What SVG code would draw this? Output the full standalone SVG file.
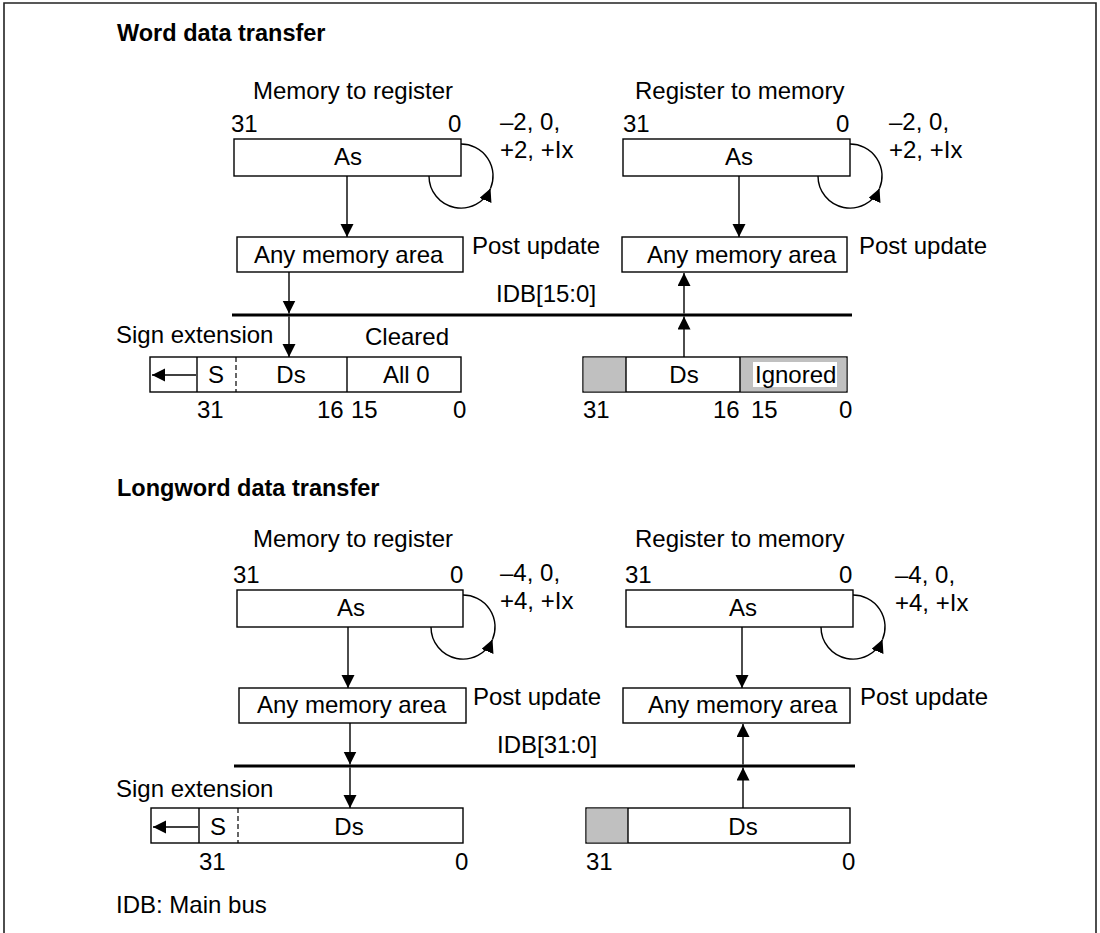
<svg xmlns="http://www.w3.org/2000/svg" width="1100" height="933" viewBox="0 0 1100 933">
<style>
text{font-family:"Liberation Sans",Arial,Helvetica,sans-serif;font-size:24px;fill:#000}
.b{font-weight:bold;font-size:23.5px}
.m{text-anchor:middle}
.box{fill:#fff;stroke:#000;stroke-width:1.4}
.gray{fill:#c0c0c0;stroke:none}
.ln{fill:none;stroke:#000;stroke-width:1.4}
.dash{fill:none;stroke:#000;stroke-width:1.2;stroke-dasharray:5 3}
.arr{fill:none;stroke:#000;stroke-width:1.4;marker-end:url(#ah)}
.bus{stroke:#000;stroke-width:3}
</style>
<defs>
<marker id="ah" markerUnits="userSpaceOnUse" markerWidth="14" markerHeight="14" refX="13" refY="6.5" orient="auto">
<path d="M0,0 L13,6.5 L0,13 z" fill="#000"/>
</marker>
</defs>
<rect width="1100" height="933" fill="#fff"/>
<path d="M4,933 V3 H1096 V933" fill="none" stroke="#222" stroke-width="1.6"/>

<g id="word">
<text class="b" x="117" y="41">Word data transfer</text>

<g id="w-as-left">
<text x="253" y="99">Memory to register</text>
<text x="231" y="132">31</text>
<text x="448" y="132">0</text>
<rect class="box" x="234" y="139" width="227" height="37"/>
<text class="m" x="348" y="165">As</text>
<text x="500" y="130">–2, 0,</text>
<text x="500" y="158">+2, +Ix</text>
</g>
<g id="w-mem-left">
<rect class="box" x="237" y="237" width="226" height="35"/>
<text x="254" y="263">Any memory area</text>
<text x="472" y="254">Post update</text>
</g>
<g id="w-ds-left">
<text x="116" y="343">Sign extension</text>
<text x="365" y="345">Cleared</text>
<rect class="box" x="150" y="357" width="311" height="35"/>
<line class="ln" x1="197" y1="357" x2="197" y2="392"/>
<line class="dash" x1="236" y1="357" x2="236" y2="392"/>
<line class="ln" x1="347" y1="357" x2="347" y2="392"/>
<text x="208" y="383">S</text>
<text class="m" x="291" y="383">Ds</text>
<text x="383" y="383">All 0</text>
<text x="197" y="418">31</text>
<text x="317" y="418">16</text>
<text x="351" y="418">15</text>
<text x="453" y="418">0</text>
</g>

<g id="w-as-right">
<text x="635" y="99">Register to memory</text>
<text x="623" y="132">31</text>
<text x="836" y="132">0</text>
<rect class="box" x="623" y="139" width="227" height="37"/>
<text class="m" x="739" y="165">As</text>
<text x="889" y="130">–2, 0,</text>
<text x="889" y="158">+2, +Ix</text>
</g>
<g id="w-mem-right">
<rect class="box" x="622" y="237" width="225" height="35"/>
<text x="647" y="263">Any memory area</text>
<text x="859" y="254">Post update</text>
</g>
<g id="w-ds-right">
<rect class="box" x="583" y="357" width="264" height="35"/>
<rect class="gray" x="583.7" y="357.7" width="42.3" height="33.6"/>
<rect class="gray" x="740" y="357.7" width="106.3" height="33.6"/>
<line class="ln" x1="626" y1="357" x2="626" y2="392"/>
<line class="ln" x1="740" y1="357" x2="740" y2="392"/>
<rect x="753" y="362" width="84" height="25" fill="#fff"/>
<text x="755" y="383">Ignored</text>
<text class="m" x="684" y="383">Ds</text>
<text x="583" y="418">31</text>
<text x="713" y="418">16</text>
<text x="751" y="418">15</text>
<text x="839" y="418">0</text>
</g>
<g id="w-bus">
<line class="bus" x1="232" y1="315" x2="852" y2="315"/>
<text x="496" y="302">IDB[15:0]</text>
</g>
</g>

<g id="longword">
<text class="b" x="117" y="496">Longword data transfer</text>

<g id="l-as-left">
<text x="253" y="547">Memory to register</text>
<text x="233" y="583">31</text>
<text x="450" y="583">0</text>
<rect class="box" x="237" y="590" width="226" height="37"/>
<text class="m" x="351" y="616">As</text>
<text x="500" y="581">–4, 0,</text>
<text x="500" y="609">+4, +Ix</text>
</g>
<g id="l-mem-left">
<rect class="box" x="239" y="688" width="227" height="35"/>
<text x="257" y="713">Any memory area</text>
<text x="473" y="705">Post update</text>
</g>
<g id="l-ds-left">
<text x="116" y="797">Sign extension</text>
<rect class="box" x="151" y="808" width="312" height="35"/>
<line class="ln" x1="199" y1="808" x2="199" y2="843"/>
<line class="dash" x1="238" y1="808" x2="238" y2="843"/>
<text x="210" y="835">S</text>
<text class="m" x="349" y="835">Ds</text>
<text x="199" y="870">31</text>
<text x="455" y="870">0</text>
</g>

<g id="l-as-right">
<text x="635" y="547">Register to memory</text>
<text x="625" y="583">31</text>
<text x="839" y="583">0</text>
<rect class="box" x="626" y="590" width="227" height="37"/>
<text class="m" x="743" y="616">As</text>
<text x="895" y="583">–4, 0,</text>
<text x="895" y="611">+4, +Ix</text>
</g>
<g id="l-mem-right">
<rect class="box" x="623" y="688" width="227" height="35"/>
<text x="648" y="713">Any memory area</text>
<text x="860" y="705">Post update</text>
</g>
<g id="l-ds-right">
<rect class="box" x="586" y="808" width="264" height="35"/>
<rect class="gray" x="586.7" y="808.7" width="41.3" height="33.6"/>
<line class="ln" x1="628" y1="808" x2="628" y2="843"/>
<text class="m" x="743" y="835">Ds</text>
<text x="586" y="870">31</text>
<text x="842" y="870">0</text>
</g>
<g id="l-bus">
<line class="bus" x1="234" y1="766" x2="855" y2="766"/>
<text x="497" y="753">IDB[31:0]</text>
</g>
<text x="116" y="913">IDB: Main bus</text>
</g>

<g id="connectors">
<path class="arr" d="M347,176 V237"/>
<path class="arr" d="M289,272 V313.5"/>
<path class="arr" d="M289,316.5 V357"/>
<path class="arr" d="M196,375 H152"/>
<path class="arr" d="M429,176 A32,32 0 0 0 490.5,188.5"/>
<path class="ln" d="M490.5,188.5 A32,32 0 0 0 461,144"/>

<path class="arr" d="M739,176 V237"/>
<path class="arr" d="M684,313.5 V273"/>
<path class="arr" d="M684,357 V316.5"/>
<path class="arr" d="M818,176 A32,32 0 0 0 879.5,188.5"/>
<path class="ln" d="M879.5,188.5 A32,32 0 0 0 850,144"/>

<path class="arr" d="M348,627 V688"/>
<path class="arr" d="M350,723 V764.5"/>
<path class="arr" d="M350,767.5 V808"/>
<path class="arr" d="M198,827 H153"/>
<path class="arr" d="M431,627 A32,32 0 0 0 492.5,639.5"/>
<path class="ln" d="M492.5,639.5 A32,32 0 0 0 463,595"/>

<path class="arr" d="M742,627 V688"/>
<path class="arr" d="M743,764.5 V724"/>
<path class="arr" d="M743,808 V767.5"/>
<path class="arr" d="M821,627 A32,32 0 0 0 882.5,639.5"/>
<path class="ln" d="M882.5,639.5 A32,32 0 0 0 853,595"/>
</g>
</svg>
